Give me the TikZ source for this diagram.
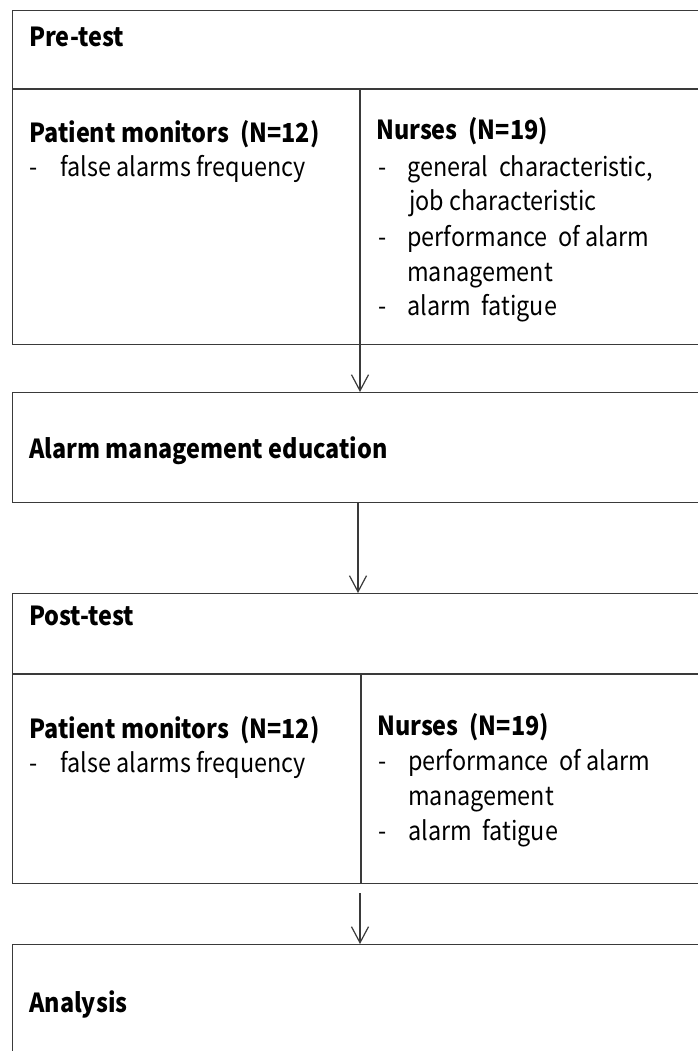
\documentclass[tikz,border=0pt]{standalone}
\usepackage{fontspec}
\setmainfont{Noto Sans CJK KR}
\usepackage{graphicx}
\usetikzlibrary{arrows.meta}
\definecolor{rule}{HTML}{3A3A3A}
% slightly taller letter shapes
\newcommand{\tallset}[1]{\scalebox{1}[1.12]{#1}}
\tikzset{
  frame/.style={draw=rule, line width=1.4pt, fill=none, inner sep=0pt, anchor=north west},
  divider/.style={draw=rule, line width=1.3pt},
  flow/.style={draw=rule, line width=1.3pt, -{Straight Barb[length=16pt,width=17pt,line width=1.2pt]}},
  head/.style={anchor=base west, inner sep=0pt, font=\fontsize{23.4}{27}\selectfont\bfseries},
  item/.style={anchor=base west, inner sep=0pt, font=\fontsize{23.4}{27}\selectfont},
}
\begin{document}
\begin{tikzpicture}[x=1pt, y=-1pt]
\useasboundingbox (0,0) rectangle (697,1051);
\fill[white] (0,0) rectangle (697,1051);

% Pre-test block
\node[frame, minimum width=720pt, minimum height=334pt] (pre) at (12,10) {};
\coordinate (preSplitL) at (12,89);
\coordinate (preSplitR) at (720,89);
\draw[divider] (preSplitL) -- (preSplitR);
\coordinate (preDivTop) at (360,89);
\coordinate (preDivBot) at (360,344);
\draw[divider] (preDivTop) -- (preDivBot);
\node[head] (preT) at (29,47) {\tallset{Pre-test}};
\node[head] (preMon) at (29,143) {\tallset{Patient monitors\ \ (N=12)}};
\node[item] (preMonD) at (29,177) {\tallset{-}};
\node[item] (preMon1) at (60,177) {\tallset{false alarms frequency}};
\node[head] (preNur) at (376,140) {\tallset{Nurses\ \ (N=19)}};
\node[item] (preD1) at (378,176) {\tallset{-}};
\node[item] (preN1) at (407,176) {\tallset{general\ \ characteristic,}};
\node[item] (preN1b) at (409,210) {\tallset{job characteristic}};
\node[item] (preD2) at (378,246) {\tallset{-}};
\node[item] (preN2) at (407,246) {\tallset{performance\ \ of alarm}};
\node[item] (preN2b) at (407,281) {\tallset{management}};
\node[item] (preD3) at (378,315) {\tallset{-}};
\node[item] (preN3) at (407,315) {\tallset{alarm\ \ fatigue}};

% Education block
\node[frame, minimum width=720pt, minimum height=110pt] (edu) at (12,392) {};
\node[head] (eduT) at (29,458) {\tallset{Alarm management education}};

% Post-test block
\node[frame, minimum width=720pt, minimum height=290pt] (post) at (12,593) {};
\coordinate (postSplitL) at (12,674);
\coordinate (postSplitR) at (720,674);
\draw[divider] (postSplitL) -- (postSplitR);
\coordinate (postDivTop) at (361,674);
\coordinate (postDivBot) at (361,883);
\draw[divider] (postDivTop) -- (postDivBot);
\node[head] (postT) at (29,625) {\tallset{Post-test}};
\node[head] (postMon) at (29,738) {\tallset{Patient monitors\ \ (N=12)}};
\node[item] (postMonD) at (29,772) {\tallset{-}};
\node[item] (postMon1) at (60,772) {\tallset{false alarms frequency}};
\node[head] (postNur) at (377,735) {\tallset{Nurses\ \ (N=19)}};
\node[item] (postD1) at (378,770) {\tallset{-}};
\node[item] (postN1) at (408,770) {\tallset{performance\ \ of alarm}};
\node[item] (postN1b) at (408,805) {\tallset{management}};
\node[item] (postD2) at (378,840) {\tallset{-}};
\node[item] (postN2) at (408,840) {\tallset{alarm\ \ fatigue}};

% Analysis block
\node[frame, minimum width=720pt, minimum height=140pt] (ana) at (12,944) {};
\node[head] (anaT) at (29,1012) {\tallset{Analysis}};

% Connectors
\draw[flow] (preDivBot) -- (edu.north -| preDivBot);
\coordinate (eduOut) at (358,502);
\draw[flow] (eduOut) -- (post.north -| eduOut);
\coordinate (postOut) at (360,893);
\draw[flow] (postOut) -- (ana.north -| postOut);
\end{tikzpicture}
\end{document}
